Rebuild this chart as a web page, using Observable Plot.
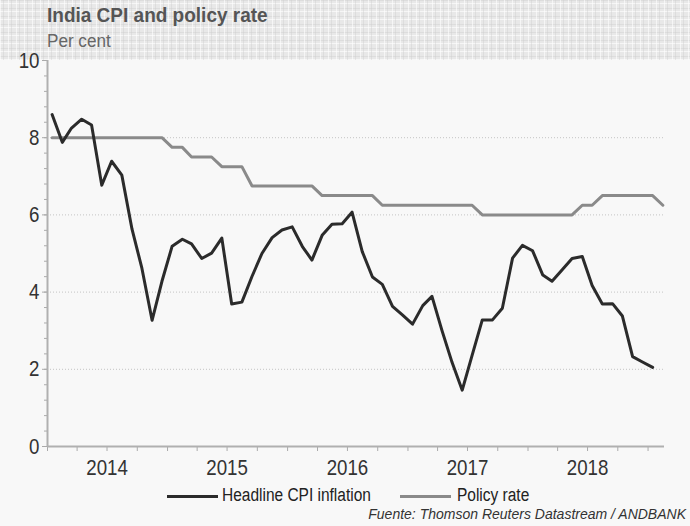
<!DOCTYPE html>
<html>
<head>
<meta charset="utf-8">
<script src="https://cdn.jsdelivr.net/npm/d3@7"></script>
<script src="https://cdn.jsdelivr.net/npm/@observablehq/plot@0.6"></script>
<style>
  html, body { margin: 0; padding: 0; background: #f8f8f8; }
  #wrap { position: relative; width: 690px; height: 526px; background: #f8f8f8; overflow: hidden;
          font-family: 'Liberation Sans', Arial, sans-serif; }
  #header { position: absolute; left: 0; top: 0; width: 690px; height: 60px;
    background-color: #e8e8e8;
    background-image:
      repeating-linear-gradient(90deg, rgba(255,255,255,0.6) 0 1px, transparent 1px 3px, rgba(200,200,200,0.35) 3px 4px, transparent 4px 8px),
      repeating-linear-gradient(0deg, rgba(255,255,255,0.6) 0 1px, transparent 1px 3px, rgba(200,200,200,0.35) 3px 4px, transparent 4px 8px);
  }
  .sq { position: absolute; white-space: nowrap; transform-origin: left center; }
  #title { left: 47px; top: 4px; font-size: 20px; font-weight: bold; color: #555; transform: scaleX(0.95); }
  #subtitle { left: 47px; top: 31px; font-size: 18px; color: #666; transform: scaleX(0.95); }
  #chart { position: absolute; left: 0; top: 0; }
  .swatch { position: absolute; width: 51px; height: 3px; top: 495px; }
  .ltext { top: 485px; font-size: 18px; color: #222; transform: scaleX(0.86); }
  #caption { position: absolute; right: 4px; top: 506px; font-style: italic; font-size: 14px; color: #333; white-space: nowrap; }
</style>
</head>
<body>
<div id="wrap">
  <div id="header"></div>
  <div id="title" class="sq">India CPI and policy rate</div>
  <div id="subtitle" class="sq">Per cent</div>
  <div id="chart"></div>
  <div class="swatch" style="left:167px; background:#2b2b2b"></div>
  <div class="sq ltext" style="left:222px">Headline CPI inflation</div>
  <div class="swatch" style="left:400px; background:#8a8a8a"></div>
  <div class="sq ltext" style="left:457px">Policy rate</div>
  <div id="caption">Fuente: Thomson Reuters Datastream / ANDBANK</div>
</div>
<script>
// Monthly data, Jan 2014 onwards
const startYear = 2014;
const cpiValues = [
  8.60, 7.88, 8.25, 8.48, 8.33, 6.77, 7.39, 7.03, 5.63, 4.62, 3.27, 4.28,
  5.19, 5.37, 5.25, 4.87, 5.01, 5.40, 3.69, 3.74, 4.41, 5.00, 5.41, 5.61,
  5.69, 5.18, 4.83, 5.47, 5.76, 5.77, 6.07, 5.05, 4.39, 4.20, 3.63, 3.41,
  3.17, 3.65, 3.89, 2.99, 2.18, 1.46, 2.36, 3.28, 3.28, 3.58, 4.88, 5.21,
  5.07, 4.44, 4.28, 4.58, 4.87, 4.92, 4.17, 3.69, 3.70, 3.38, 2.33, 2.19,
  2.05
];
const policyValues = [
  8.00, 8.00, 8.00, 8.00, 8.00, 8.00, 8.00, 8.00, 8.00, 8.00, 8.00, 8.00,
  7.75, 7.75, 7.50, 7.50, 7.50, 7.25, 7.25, 7.25, 6.75, 6.75, 6.75, 6.75,
  6.75, 6.75, 6.75, 6.50, 6.50, 6.50, 6.50, 6.50, 6.50, 6.25, 6.25, 6.25,
  6.25, 6.25, 6.25, 6.25, 6.25, 6.25, 6.25, 6.00, 6.00, 6.00, 6.00, 6.00,
  6.00, 6.00, 6.00, 6.00, 6.00, 6.25, 6.25, 6.50, 6.50, 6.50, 6.50, 6.50,
  6.50, 6.25
];
const yearLabels = [2014, 2015, 2016, 2017, 2018];
const yMajorTicks = [0, 2, 4, 6, 8, 10];
const gridValues = [2, 4, 6, 8];

const monthDate = i => new Date(Date.UTC(startYear, i, 15));
const cpi = cpiValues.map((v, i) => ({date: monthDate(i), value: v}));
const policy = policyValues.map((v, i) => ({date: monthDate(i), value: v}));

const xStart = new Date(Date.UTC(2014, 0, 1));
const xEnd = new Date(Date.UTC(2019, 1, 20));
const quarterTicks = d3.utcMonth.every(3).range(xStart, xEnd);
const yearMid = yearLabels.map(y => new Date(Date.UTC(y, 6, 1)));
const yMinor = d3.range(0, 10.001, 0.4);

const plot = Plot.plot({
  width: 690,
  height: 490,
  marginTop: 60,
  marginBottom: 44,
  marginLeft: 47,
  marginRight: 26,
  style: {background: "transparent", fontFamily: "'Liberation Sans', Arial, sans-serif", fontSize: "22px", color: "#333"},
  x: {type: "utc", domain: [xStart, xEnd]},
  y: {domain: [0, 10]},
  marks: [
    Plot.ruleY(gridValues, {stroke: "#c4c4c4", strokeDasharray: "1,2", strokeWidth: 1}),
    Plot.axisY(yMinor, {tickSize: 3, tickFormat: () => "", stroke: "#aaa", label: null}),
    Plot.axisY(yMajorTicks, {tickSize: 5, tickPadding: 3, stroke: "#aaa", fill: "#333", label: null, fontSize: 22}),
    Plot.axisX(quarterTicks, {tickSize: 5, tickFormat: () => "", stroke: "#aaa", label: null}),
    Plot.axisX(yearMid, {tickSize: 0, tickPadding: 13, tickFormat: d3.utcFormat("%Y"), fill: "#333", label: null, fontSize: 22}),
    Plot.ruleX([xStart], {stroke: "#b0b0b0", strokeWidth: 2}),
    Plot.ruleY([0], {stroke: "#b0b0b0", strokeWidth: 2}),
    Plot.line(policy, {x: "date", y: "value", stroke: "#8a8a8a", strokeWidth: 3}),
    Plot.line(cpi, {x: "date", y: "value", stroke: "#2b2b2b", strokeWidth: 3})
  ]
});
document.getElementById("chart").appendChild(plot);

// Narrow the tick labels horizontally (the reference uses a condensed face)
d3.select(plot).selectAll("text").each(function() {
  const b = this.getBBox();
  if (!b.width) return;
  const anchor = this.getAttribute("text-anchor") || (this.parentNode && this.parentNode.getAttribute("text-anchor"));
  const cx = anchor === "end" ? b.x + b.width : b.x + b.width / 2;
  const cy = b.y + b.height / 2;
  const t = this.getAttribute("transform") || "";
  this.setAttribute("transform", `${t} translate(${cx},${cy}) scale(0.85,1) translate(${-cx},${-cy})`.trim());
});
</script>
</body>
</html>
